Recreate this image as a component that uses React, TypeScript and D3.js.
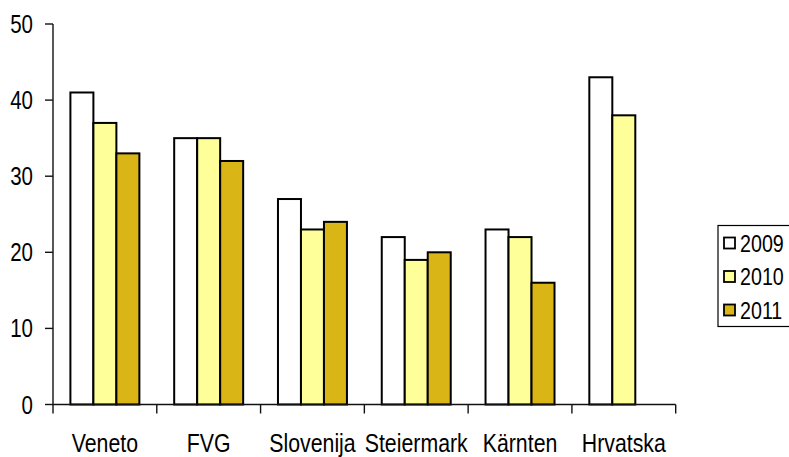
import React from "react";
import * as d3 from "d3";

const categories = ["Veneto", "FVG", "Slovenija", "Steiermark", "Kärnten", "Hrvatska"];
const seriesNames = ["2009", "2010", "2011"];
const values2009 = [41, 35, 27, 22, 23, 43];
const values2010 = [37, 35, 23, 19, 22, 38];
const values2011: (number | null)[] = [33, 32, 24, 20, 16, null];
const yTicks = [0, 10, 20, 30, 40, 50];
const colors = ["#FFFFFF", "#FFFF99", "#D9B516"];

const W = 789;
const H = 457;
const FONT = "'Liberation Sans', Arial, sans-serif";
const SX = 0.82;

function NText(props: { x: number; y: number; anchor?: string; size: number; dy?: string; children: React.ReactNode }) {
  const { x, y, anchor = "start", size, dy = "0", children } = props;
  return (
    <text
      transform={`translate(${x},${y}) scale(${SX},1)`}
      dy={dy}
      textAnchor={anchor}
      fontFamily={FONT}
      fontSize={size}
      fill="#000"
    >
      {children}
    </text>
  );
}

export default function App() {
  const x0 = d3.scaleBand<string>().domain(categories).range([53, 675.7]).paddingInner(0).paddingOuter(0);
  const x1 = d3.scaleBand<string>().domain(seriesNames).range([0, x0.bandwidth()]).paddingInner(0).paddingOuter(0.757);
  const y = d3.scaleLinear().domain([0, 50]).range([404.5, 24]);
  const series = [values2009, values2010, values2011];

  const bounds = [...categories.map((c) => x0(c)!), x0.range()[1]];

  return (
    <svg width={W} height={H} style={{ position: "absolute", left: 0, top: 0, background: "#fff" }}>
      <rect x={0} y={0} width={W} height={H} fill="#fff" />
      {categories.map((c, ci) => (
        <g key={c} transform={`translate(${x0(c)},0)`}>
          {seriesNames.map((s, si) => {
            const v = series[si][ci];
            if (v == null) return null;
            return (
              <rect
                key={s}
                x={x1(s)}
                y={y(v)}
                width={x1.bandwidth()}
                height={y(0) - y(v)}
                fill={colors[si]}
                stroke="#000"
                strokeWidth={2}
              />
            );
          })}
        </g>
      ))}
      <line x1={53} x2={53} y1={y(50)} y2={y(0)} stroke="#111" strokeWidth={1.4} />
      {yTicks.map((t) => (
        <g key={t}>
          <line x1={45} x2={53} y1={y(t)} y2={y(t)} stroke="#111" strokeWidth={1.4} />
          <NText x={33} y={y(t)} dy="0.36em" anchor="end" size={25}>
            {t}
          </NText>
        </g>
      ))}
      <line x1={53} x2={675.7} y1={y(0)} y2={y(0)} stroke="#111" strokeWidth={1.4} />
      {bounds.map((b, i) => (
        <line key={i} x1={b} x2={b} y1={y(0)} y2={y(0) + 9} stroke="#111" strokeWidth={1.4} />
      ))}
      {categories.map((c) => (
        <NText key={c} x={x0(c)! + x0.bandwidth() / 2} y={452} anchor="middle" size={26}>
          {c}
        </NText>
      ))}
      <rect x={718} y={225.5} width={80} height={101} fill="#fff" stroke="#000" strokeWidth={1.2} />
      {seriesNames.map((s, i) => {
        const cy = 243 + i * 33.5;
        return (
          <g key={s}>
            <rect x={724} y={cy - 5.5} width={11} height={11} fill={colors[i]} stroke="#000" strokeWidth={1.8} />
            <NText x={740} y={cy} dy="0.36em" size={24}>
              {s}
            </NText>
          </g>
        );
      })}
    </svg>
  );
}
